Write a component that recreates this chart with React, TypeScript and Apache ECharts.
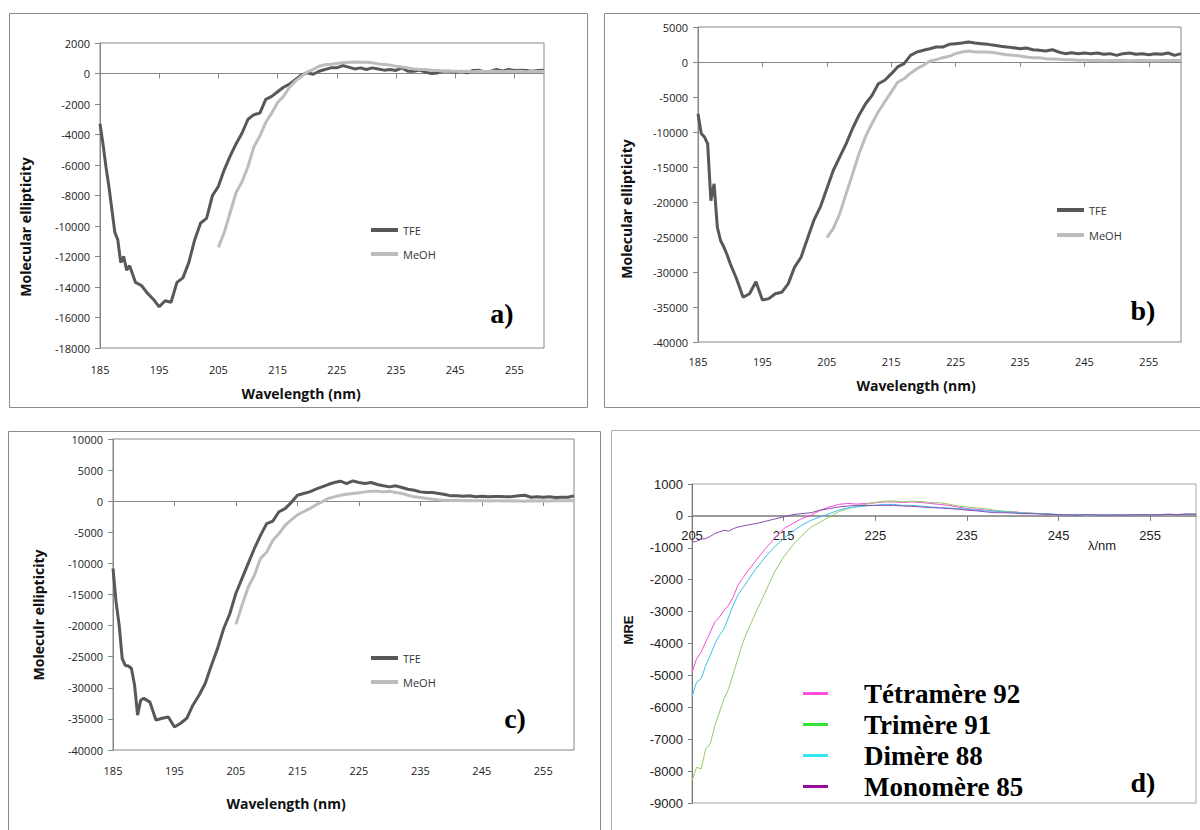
import { useEffect, useRef } from "react";
import * as echarts from "echarts";

// ---------- wavelengths (nm) ----------
const NM_TFE = [185, 185.5, 186, 186.5, 187, 187.5, 188, 188.5, 189, 189.5,
  190, 191, 192, 193, 194, 195, 196, 197, 198, 199,
  200, 201, 202, 203, 204, 205, 206, 207, 208, 209,
  210, 211, 212, 213, 214, 215, 216, 217, 218, 219,
  220, 221, 222, 223, 224, 225, 226, 227, 228, 229,
  230, 231, 232, 233, 234, 235, 236, 237, 238, 239,
  240, 241, 242, 243, 244, 245, 246, 247, 248, 249,
  250, 251, 252, 253, 254, 255, 256, 257, 258, 259, 260];
const NM_MEOH = [205, 206, 207, 208, 209,
  210, 211, 212, 213, 214, 215, 216, 217, 218, 219,
  220, 221, 222, 223, 224, 225, 226, 227, 228, 229,
  230, 231, 232, 233, 234, 235, 236, 237, 238, 239,
  240, 241, 242, 243, 244, 245, 246, 247, 248, 249,
  250, 251, 252, 253, 254, 255, 256, 257, 258, 259, 260];
const NM_D = [205, 205.5, 206, 206.5, 207, 207.5, 208, 208.5, 209, 209.5, 210, 210.5, 211,
  212, 213, 214, 215, 216, 217, 218, 219, 220,
  221, 222, 223, 224, 225, 226, 227, 228, 229, 230,
  231, 232, 233, 234, 235, 236, 237, 238, 239, 240,
  241, 242, 243, 244, 245, 246, 247, 248, 249, 250,
  251, 252, 253, 254, 255, 256, 257, 258, 259, 260];

// ---------- panel a ----------
const A_TFE = [-3300, -4600, -6100, -7400, -8900, -10400, -10900, -12400, -12000, -12900,
  -12600, -13700, -13900, -14400, -14800, -15300, -14900, -15000, -13700, -13400,
  -12400, -10900, -9800, -9500, -8000, -7400, -6300, -5400, -4600, -3900,
  -3000, -2700, -2600, -1700, -1500, -1200, -900, -700, -400, -100,
  50, -50, 150, 260, 370, 370, 520, 420, 300, 370,
  260, 370, 300, 220, 260, 200, 370, 150, 150, 220,
  90, 0, 40, 150, 150, 90, 150, 40, 200, 220,
  90, 150, 260, 150, 260, 200, 220, 200, 150, 200, 220];
const A_MEOH = [-11400, -10400, -9100, -7800, -7100,
  -6100, -4800, -4100, -3200, -2600, -1900, -1500, -900, -500, -200,
  100, 260, 480, 570, 600, 660, 700, 740, 760, 740,
  740, 700, 630, 590, 550, 480, 420, 370, 300, 260,
  260, 220, 200, 150, 150, 150, 130, 150, 120, 140,
  110, 130, 150, 120, 140, 130, 150, 120, 140, 130, 150];

// ---------- panel b ----------
const B_TFE = [-7400, -10200, -10700, -11700, -19800, -17400, -23600, -25500, -26400, -27500,
  -28800, -31000, -33600, -33100, -31400, -34000, -33800, -33100, -32900, -31700,
  -29300, -27900, -25200, -22600, -20700, -18100, -15500, -13600, -11700, -9500,
  -7600, -6000, -4800, -3100, -2600, -1700, -700, -240, 950, 1430,
  1670, 1900, 2140, 2140, 2520, 2620, 2710, 2860, 2710, 2620,
  2520, 2380, 2240, 2140, 2050, 1900, 2000, 1760, 1670, 1570,
  1760, 1430, 1190, 1330, 1190, 1290, 1190, 1290, 1100, 1190,
  950, 1190, 1290, 1100, 1190, 1050, 1190, 1100, 1290, 950, 1190];
const B_MEOH = [-25100, -23800, -21700, -18800, -16000,
  -13100, -10700, -8800, -7100, -5700, -4300, -2900, -2400, -1600, -950,
  -480, 140, 330, 620, 810, 1190, 1430, 1570, 1430, 1430,
  1430, 1330, 1190, 1050, 950, 860, 710, 620, 620, 480,
  430, 380, 330, 330, 240, 240, 200, 240, 190, 220,
  200, 240, 190, 220, 200, 230, 190, 220, 200, 230, 210];

// ---------- panel c ----------
const C_TFE = [-10800, -16200, -19900, -25300, -26400, -26500, -26900, -29500, -34400, -32000,
  -31700, -32300, -35200, -34900, -34700, -36300, -35700, -34900, -32800, -31200,
  -29300, -26400, -23700, -20500, -18100, -14800, -12400, -10000, -7600, -5500,
  -3600, -3200, -1700, -1200, -200, 960, 1230, 1500, 1930, 2300,
  2680, 3000, 3220, 2840, 3270, 3000, 2840, 3000, 2680, 2470,
  2300, 2470, 2200, 1930, 1770, 1500, 1390, 1390, 1230, 1070,
  860, 860, 800, 860, 700, 800, 700, 750, 750, 700,
  750, 860, 960, 640, 700, 640, 700, 590, 640, 640, 860];
const C_MEOH = [-19800, -16700, -13800, -11900, -9200,
  -8200, -6300, -5200, -3900, -3000, -2200, -1700, -1200, -600, -100,
  430, 700, 960, 1130, 1230, 1340, 1500, 1610, 1610, 1500,
  1610, 1390, 1230, 960, 700, 590, 430, 320, 210, 160,
  100, 150, 80, 120, 60, 100, 40, 90, 60, 20,
  80, 40, -20, 60, 30, 80, 40, 100, 60, 90, 120];

// ---------- panel d ----------
const D_TETRA = [-4900, -4480, -4270, -3950, -3640, -3320, -3170, -2960, -2800, -2540, -2180, -1970, -1760,
  -1390, -1030, -710, -400, -240, -80, 20, 180, 280,
  360, 390, 370, 390, 410, 440, 440, 420, 440, 420,
  390, 360, 330, 280, 230, 210, 180, 150, 130, 130,
  100, 80, 70, 50, 40, 30, 50, 20, 40, 30,
  20, 40, 30, 20, 40, 30, 50, 40, 60, 50];
const D_TRI = [-8300, -7880, -7930, -7300, -7140, -6570, -6150, -5730, -5420, -4950, -4480, -4010, -3640,
  -3010, -2390, -1760, -1290, -920, -610, -350, -190, -30,
  130, 230, 300, 370, 420, 460, 470, 440, 460, 450,
  420, 410, 370, 310, 280, 250, 230, 180, 150, 130,
  100, 90, 70, 60, 40, 30, 40, 20, 30, 20,
  30, 20, 40, 30, 20, 40, 30, 50, 40, 60];
const D_DI = [-5680, -5210, -5100, -4690, -4370, -4010, -3740, -3540, -3170, -2800, -2490, -2280, -2070,
  -1650, -1290, -970, -710, -480, -290, -140, -30, 70,
  180, 250, 280, 310, 330, 360, 360, 330, 330, 310,
  280, 260, 250, 230, 210, 180, 160, 150, 130, 110,
  90, 80, 70, 60, 40, 30, 40, 30, 20, 30,
  40, 30, 20, 40, 30, 40, 50, 40, 50, 60];
const D_MONO = [-820, -800, -730, -710, -640, -550, -500, -450, -480, -400, -350, -320, -290,
  -240, -170, -100, -30, 40, 70, 100, 180, 230,
  280, 310, 330, 330, 330, 330, 330, 310, 300, 280,
  260, 250, 230, 210, 180, 160, 130, 100, 100, 90,
  70, 70, 60, 50, 40, 30, 20, 40, 30, 20,
  30, 20, 30, 40, 30, 40, 50, 40, 60, 50];

// ---------- ticks & labels ----------
const X_TICKS_ABC = [185, 195, 205, 215, 225, 235, 245, 255];
const X_TICKS_D = [205, 215, 225, 235, 245, 255];
const D_NAMES = ["Tétramère 92", "Trimère 91", "Dimère 88", "Monomère 85"];
const D_LINE_COLORS = ["#f24fd8", "#95cc66", "#40c2ee", "#8a4cb0"];
const D_LEGEND_COLORS = ["#ff4de0", "#33e033", "#33e6f6", "#9a0a9a"];

const zip = (nm: number[], v: number[]) => nm.map((x, i) => [x, v[i]]);
const plain = (v: number) => String(v);

const AX = "#868686";
const TICK_FONT = { fontFamily: "Open Sans", fontSize: 11, color: "#222", formatter: plain };

// grid geometry [left, top, width, height]
const G = [
  [100, 43, 444, 305],
  [698, 27, 483, 315],
  [113, 439, 461, 311],
  [692, 484, 504, 319],
];
// offset that moves a bottom x axis up to the y = 0 line
const zeroOffset = (g: number[], yMin: number, yMax: number) => -(g[3] * (0 - yMin)) / (yMax - yMin);

function abcAxes(gridIndex: number, yMin: number, yMax: number, yInt: number, labelMargin: number) {
  const x0 = {
    gridIndex, type: "value", min: 185, max: 260, interval: 10,
    position: "bottom", offset: zeroOffset(G[gridIndex], yMin, yMax),
    axisLine: { show: true, onZero: false, lineStyle: { color: AX, width: 1 } },
    axisTick: { show: true, length: 5, customValues: X_TICKS_ABC, lineStyle: { color: AX } },
    axisLabel: { show: false },
    splitLine: { show: false },
  };
  const x1 = {
    gridIndex, type: "value", min: 185, max: 260, interval: 10, position: "bottom",
    axisLine: { show: false, onZero: false },
    axisTick: { show: false },
    axisLabel: { ...TICK_FONT, customValues: X_TICKS_ABC, margin: labelMargin },
    splitLine: { show: false },
  };
  const y = {
    gridIndex, type: "value", min: yMin, max: yMax, interval: yInt,
    axisLine: { show: true, onZero: false, lineStyle: { color: AX } },
    axisTick: { show: true, length: 5, lineStyle: { color: AX } },
    axisLabel: { ...TICK_FONT, margin: 10 },
    splitLine: { show: false },
  };
  return { x0, x1, y };
}

function pair(name: string, data: number[][], xi: number, yi: number, color: string) {
  return {
    type: "line", name, data, xAxisIndex: xi, yAxisIndex: yi,
    symbol: "none", showSymbol: false, silent: true,
    lineStyle: { width: 3, color }, itemStyle: { color },
  };
}

const TFE_C = "#585858";
const MEOH_C = "#bdbdbd";

export default function App() {
  const ref = useRef<HTMLDivElement>(null);
  useEffect(() => {
    if (!ref.current) return;
    const chart = echarts.init(ref.current, undefined, { renderer: "svg" });
    const A = abcAxes(0, -18000, 2000, 2000, 16);
    const B = abcAxes(1, -40000, 5000, 5000, 14);
    const C = abcAxes(2, -40000, 10000, 5000, 15);
    const gridBase = { show: true, borderColor: AX, borderWidth: 1, backgroundColor: "transparent", containLabel: false, outerBoundsMode: "none" };
    const grid = (i: number, extra: any = {}) => ({ ...gridBase, left: G[i][0], top: G[i][1], width: G[i][2], height: G[i][3], ...extra });
    const legendText = { fontFamily: "Open Sans", fontSize: 11, lineHeight: 14, color: "#333" };
    const abcLegend = (left: number, top: number, gap: number) => ({
      left, top, padding: 0, orient: "vertical", icon: "rect", itemWidth: 27, itemHeight: 4, itemGap: gap,
      selectedMode: false, textStyle: legendText,
      data: [
        { name: "TFE", itemStyle: { color: TFE_C } },
        { name: "MeOH", itemStyle: { color: MEOH_C } },
      ],
    });
    const titleFont = 'bold 14px "Open Sans"';
    const letterFont = 'bold 28px "Liberation Serif"';

    const option: any = {
      animation: false,
      backgroundColor: "#fff",
      grid: [grid(0), grid(1), grid(2), grid(3, { borderColor: "#a6a6a6" })],
      xAxis: [
        A.x0, A.x1, B.x0, B.x1, C.x0, C.x1,
        {
          gridIndex: 3, type: "value", min: 205, max: 260, interval: 10,
          position: "bottom", offset: zeroOffset(G[3], -9000, 1000),
          axisLine: { show: true, onZero: false, lineStyle: { color: "#7a7a7a", width: 1.5 } },
          axisTick: { show: true, length: 5, customValues: X_TICKS_D, lineStyle: { color: "#7a7a7a" } },
          axisLabel: { customValues: X_TICKS_D, margin: 13, fontFamily: "Liberation Sans", fontSize: 13, color: "#222", formatter: plain },
          splitLine: { show: false },
        },
      ],
      yAxis: [
        A.y, B.y, C.y,
        {
          gridIndex: 3, type: "value", min: -9000, max: 1000, interval: 1000,
          axisLine: { show: true, onZero: false, lineStyle: { color: "#7a7a7a" } },
          axisTick: { show: true, length: 4, lineStyle: { color: "#7a7a7a" } },
          axisLabel: { margin: 9, fontFamily: "Liberation Sans", fontSize: 13, color: "#222", formatter: plain },
          splitLine: { show: false },
        },
      ],
      legend: [
        abcLegend(371, 223, 10),
        abcLegend(1057, 203, 11),
        abcLegend(371, 651, 10),
        {
          left: 803, top: 680, padding: 0, orient: "vertical", icon: "rect", itemWidth: 25, itemHeight: 3, itemGap: 4, selectedMode: false,
          data: D_NAMES.map((n, i) => ({ name: n, itemStyle: { color: D_LEGEND_COLORS[i] } })),
          textStyle: { fontFamily: "Liberation Serif", fontWeight: "bold", fontSize: 27, lineHeight: 27, color: "#000", padding: [0, 0, 0, 31] },
        },
      ],
      series: [
        pair("TFE", zip(NM_TFE, A_TFE), 0, 0, TFE_C),
        pair("MeOH", zip(NM_MEOH, A_MEOH), 0, 0, MEOH_C),
        pair("TFE", zip(NM_TFE, B_TFE), 2, 1, TFE_C),
        pair("MeOH", zip(NM_MEOH, B_MEOH), 2, 1, MEOH_C),
        pair("TFE", zip(NM_TFE, C_TFE), 4, 2, TFE_C),
        pair("MeOH", zip(NM_MEOH, C_MEOH), 4, 2, MEOH_C),
        ...[D_TETRA, D_TRI, D_DI, D_MONO].map((vals, i) => ({
          type: "line", name: D_NAMES[i], data: zip(NM_D, vals), xAxisIndex: 6, yAxisIndex: 3,
          symbol: "none", showSymbol: false, silent: true,
          lineStyle: { width: 1, color: D_LINE_COLORS[i] }, itemStyle: { color: D_LINE_COLORS[i] },
        })),
      ],
      graphic: [
        { type: "rect", silent: true, z: -1, shape: { x: 9.5, y: 13.5, width: 578, height: 394 }, style: { fill: "none", stroke: "#8a8a8a", lineWidth: 1 } },
        { type: "rect", silent: true, z: -1, shape: { x: 604.5, y: 13.5, width: 610, height: 394 }, style: { fill: "none", stroke: "#8a8a8a", lineWidth: 1 } },
        { type: "rect", silent: true, z: -1, shape: { x: 8.5, y: 431.5, width: 592, height: 420 }, style: { fill: "none", stroke: "#8a8a8a", lineWidth: 1 } },
        { type: "rect", silent: true, z: -1, shape: { x: 611.5, y: 430.5, width: 610, height: 420 }, style: { fill: "none", stroke: "#b0b0b0", lineWidth: 1 } },

        { type: "text", x: 25, y: 227, rotation: Math.PI / 2, style: { text: "Molecular ellipticity", font: titleFont, fill: "#111", align: "center", verticalAlign: "middle" } },
        { type: "text", x: 301, y: 393, style: { text: "Wavelength (nm)", font: titleFont, fill: "#111", align: "center", verticalAlign: "middle" } },
        { type: "text", x: 502, y: 313, style: { text: "a)", font: letterFont, fill: "#000", align: "center", verticalAlign: "middle" } },

        { type: "text", x: 626, y: 209, rotation: Math.PI / 2, style: { text: "Molecular ellipticity", font: titleFont, fill: "#111", align: "center", verticalAlign: "middle" } },
        { type: "text", x: 916, y: 385, style: { text: "Wavelength (nm)", font: titleFont, fill: "#111", align: "center", verticalAlign: "middle" } },
        { type: "text", x: 1143, y: 310, style: { text: "b)", font: letterFont, fill: "#000", align: "center", verticalAlign: "middle" } },

        { type: "text", x: 38, y: 615, rotation: Math.PI / 2, style: { text: "Moleculr ellipticity", font: titleFont, fill: "#111", align: "center", verticalAlign: "middle" } },
        { type: "text", x: 286, y: 803, style: { text: "Wavelength (nm)", font: titleFont, fill: "#111", align: "center", verticalAlign: "middle" } },
        { type: "text", x: 515, y: 718, style: { text: "c)", font: letterFont, fill: "#000", align: "center", verticalAlign: "middle" } },

        { type: "text", x: 628, y: 630, rotation: Math.PI / 2, style: { text: "MRE", font: 'bold 13px "Liberation Sans"', fill: "#111", align: "center", verticalAlign: "middle" } },
        { type: "text", x: 1102, y: 545, style: { text: "λ/nm", font: '13px "Liberation Sans"', fill: "#222", align: "center", verticalAlign: "middle" } },
        { type: "text", x: 1143, y: 782, style: { text: "d)", font: letterFont, fill: "#000", align: "center", verticalAlign: "middle" } },
      ],
    };
    chart.setOption(option);
    return () => chart.dispose();
  }, []);
  return (
    <div
      ref={ref}
      style={{ position: "absolute", left: 0, top: 0, width: 1200, height: 830, background: "#fff" }}
    />
  );
}
